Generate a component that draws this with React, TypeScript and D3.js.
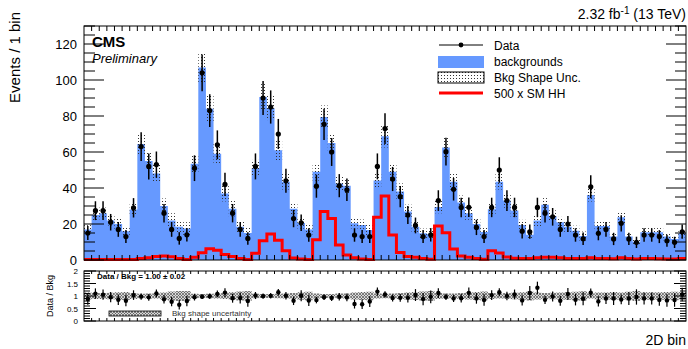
import React, { useRef, useEffect } from 'react';
import * as d3 from 'd3';

// background prediction per 2D bin (events)
const bkg = [
  17, 25, 26, 22, 20, 16, 28, 64.5, 55, 48, 30, 22, 18.5, 17.5,
  53.5, 107, 84, 59, 37, 28.5, 18.5, 15,
  51, 90.5, 84.5, 61, 43.5, 28.5, 20.5, 17,
  49, 79.5, 65, 42.5, 41.3, 20.4, 19.4, 16.7,
  44.2, 68.7, 49, 38, 27, 18.5, 14.8, 14.5,
  29.5, 62.5, 43.5, 32, 26, 20, 15.5,
  28.2, 43.5, 33, 27.5, 19.4, 14,
  22, 30.7, 24.4, 21, 18.5, 16.3, 13.3,
  36.1, 18.9, 18.9, 13, 23.7, 13, 10.2,
  15.4, 15.4, 15.4, 13, 11.7, 14.8,
];

// observed events
const obs = [
  15, 27.4, 27.4, 21, 17, 13, 29, 63, 52, 53, 26, 17, 12, 14,
  51, 104, 83, 64, 42, 26, 17, 12,
  52, 90, 85, 70, 44, 23, 20.7, 13.9,
  41, 75.4, 60, 41.3, 39, 13.9, 13, 13,
  52, 73, 45, 35.2, 25, 19.2, 13, 14,
  33, 60.2, 39.3, 29.2, 29.3, 18.1, 13,
  29.2, 50, 33, 29.2, 16, 15.7,
  29.2, 26, 24, 17, 20, 13.9, 11.8,
  40.7, 14.8, 17, 11.7, 20.4, 11.7, 9.8,
  13.9, 13.9, 13, 10.7, 9.8, 15.7,
];

// 500 x SM HH
const signal = [
  0.3, 0.3, 0.3, 0.3, 0.3, 0.3, 0.3, 0.8, 1.2, 2, 2.2, 1.8, 0.8, 0.3,
  1.5, 4, 6.2, 5.4, 3, 2, 0.9, 0.3,
  3.7, 10.7, 14.4, 11, 5.2, 1.1, 0.6, 0.3,
  11.3, 26.9, 23, 8.3, 2.8, 1.2, 0.6, 0.3,
  23.7, 35.6, 13.9, 4.1, 1.9, 1.5, 0.9, 0.4,
  18.9, 15.2, 6.1, 2.2, 1.5, 0.9, 0.4,
  5.2, 3.9, 1.7, 1, 0.9, 0.8,
  1.2, 1.5, 1.5, 1.3, 0.9, 0.8, 0.9,
  1.3, 0.9, 0.8, 0.7, 1.2, 0.8, 0.6,
  0.8, 0.8, 0.7, 0.6, 0.6, 0.8,
];

// relative background shape uncertainty
const shapeUnc = [
  0.14, 0.12, 0.12, 0.13, 0.15, 0.16, 0.12,
  0.09, 0.1, 0.1, 0.14, 0.18, 0.2, 0.2,
  0.09, 0.08, 0.09, 0.1, 0.12, 0.15, 0.18, 0.2,
  0.09, 0.08, 0.08, 0.09, 0.1, 0.12, 0.15, 0.17,
  0.1, 0.08, 0.08, 0.1, 0.1, 0.14, 0.16, 0.17,
  0.1, 0.09, 0.1, 0.12, 0.14, 0.16, 0.18, 0.2,
  0.12, 0.1, 0.1, 0.12, 0.14, 0.16, 0.18,
  0.12, 0.1, 0.12, 0.13, 0.15, 0.18,
  0.14, 0.12, 0.13, 0.14, 0.15, 0.17, 0.19,
  0.1, 0.14, 0.14, 0.16, 0.14, 0.17, 0.2,
  0.15, 0.15, 0.15, 0.16, 0.17, 0.15,
];

const yTicks = [0, 20, 40, 60, 80, 100, 120];
const ratioTicks = [0, 0.5, 1, 1.5, 2];

const FONT = 'Liberation Sans, Arial, Helvetica, sans-serif';

const App = () => {
  const ref = useRef<SVGSVGElement>(null);

  useEffect(() => {
    const svg = d3.select(ref.current);
    svg.selectAll('*').remove();

    const width = 688;
    const height = 349;
    const left = 84, right = 686;
    const top = 26, mainBottom = 260;
    const rTop = 271, rBottom = 321;
    const n = bkg.length;

    svg.attr('width', width).attr('height', height).style('font-family', FONT);

    const defs = svg.append('defs');
    const dots = defs.append('pattern')
      .attr('id', 'dots').attr('width', 3).attr('height', 3)
      .attr('patternUnits', 'userSpaceOnUse');
    dots.append('rect').attr('width', 1).attr('height', 1).attr('fill', '#333');

    const hatch = defs.append('pattern')
      .attr('id', 'hatch').attr('width', 3).attr('height', 3)
      .attr('patternUnits', 'userSpaceOnUse');
    hatch.append('rect').attr('width', 3).attr('height', 3).attr('fill', '#d8d8d8');
    hatch.append('path').attr('d', 'M0,0L3,3M3,0L0,3').attr('stroke', '#555').attr('stroke-width', 0.7);

    const x = d3.scaleLinear().domain([0, n]).range([left, right]);
    const y = d3.scaleLinear().domain([0, 130]).range([mainBottom, top]);
    const yr = d3.scaleLinear().domain([0, 2]).range([rBottom, rTop]);

    const steps = (vals: number[]) => vals.map((v, i) => [i, v]).concat([[n, vals[n - 1]]]);

    // backgrounds
    svg.append('path')
      .datum(steps(bkg))
      .attr('fill', '#6699ff')
      .attr('d', d3.area<number[]>()
        .x(d => x(d[0])).y0(y(0)).y1(d => y(d[1]))
        .curve(d3.curveStepAfter));

    // shape uncertainty
    svg.append('g').selectAll('rect')
      .data(bkg)
      .enter().append('rect')
      .attr('x', (d, i) => x(i))
      .attr('width', x(1) - x(0))
      .attr('y', (d, i) => y(d * (1 + shapeUnc[i])))
      .attr('height', (d, i) => y(d * (1 - shapeUnc[i])) - y(d * (1 + shapeUnc[i])))
      .attr('fill', 'url(#dots)');

    // signal
    svg.append('path')
      .datum(steps(signal))
      .attr('fill', 'none')
      .attr('stroke', '#ff0000')
      .attr('stroke-width', 3)
      .attr('d', d3.line<number[]>()
        .x(d => x(d[0])).y(d => y(d[1]))
        .curve(d3.curveStepAfter));

    // data
    const pts = svg.append('g');
    obs.forEach((d, i) => {
      const cx = x(i + 0.5);
      const e = Math.sqrt(d);
      pts.append('line').attr('x1', cx).attr('x2', cx)
        .attr('y1', y(d - e)).attr('y2', y(d + e))
        .attr('stroke', '#000').attr('stroke-width', 1.5);
      pts.append('circle').attr('cx', cx).attr('cy', y(d)).attr('r', 2.6).attr('fill', '#000');
    });

    // main frame + ticks
    const ax = svg.append('g').attr('stroke', '#000').attr('fill', 'none');
    ax.append('rect').attr('x', left).attr('y', top).attr('width', right - left).attr('height', mainBottom - top).attr('stroke-width', 1);
    d3.range(0, 131, 5).forEach(v => {
      const len = v % 20 === 0 ? 20 : 11;
      ax.append('line').attr('x1', left).attr('x2', left + len).attr('y1', y(v)).attr('y2', y(v));
      ax.append('line').attr('x1', right).attr('x2', right - len).attr('y1', y(v)).attr('y2', y(v));
    });
    d3.range(1, n).forEach(i => {
      ax.append('line').attr('x1', x(i)).attr('x2', x(i)).attr('y1', mainBottom).attr('y2', mainBottom - 5);
      ax.append('line').attr('x1', x(i)).attr('x2', x(i)).attr('y1', top).attr('y2', top + 5);
    });

    svg.append('g').selectAll('text')
      .data(yTicks).enter().append('text')
      .attr('x', left - 7).attr('y', d => y(d) + 4.5)
      .attr('text-anchor', 'end').attr('font-size', 13)
      .text(d => d);

    // ratio panel
    svg.append('g').selectAll('rect')
      .data(bkg).enter().append('rect')
      .attr('x', (d, i) => x(i))
      .attr('width', x(1) - x(0))
      .attr('y', (d, i) => yr(1 + shapeUnc[i]))
      .attr('height', (d, i) => yr(1 - shapeUnc[i]) - yr(1 + shapeUnc[i]))
      .attr('fill', 'url(#hatch)');

    const rp = svg.append('g');
    obs.forEach((d, i) => {
      const cx = x(i + 0.5);
      const r = d / bkg[i];
      const e = Math.sqrt(d) / bkg[i];
      rp.append('line').attr('x1', cx).attr('x2', cx)
        .attr('y1', yr(Math.max(0, r - e))).attr('y2', yr(Math.min(2, r + e)))
        .attr('stroke', '#000').attr('stroke-width', 1.2);
      rp.append('circle').attr('cx', cx).attr('cy', yr(r)).attr('r', 2.2).attr('fill', '#000');
    });

    const rax = svg.append('g').attr('stroke', '#000').attr('fill', 'none');
    rax.append('rect').attr('x', left).attr('y', rTop).attr('width', right - left).attr('height', rBottom - rTop);
    d3.range(0, 21).forEach(k => {
      const v = k / 10;
      const len = k % 5 === 0 ? 12 : 6;
      rax.append('line').attr('x1', left).attr('x2', left + len).attr('y1', yr(v)).attr('y2', yr(v));
      rax.append('line').attr('x1', right).attr('x2', right - len).attr('y1', yr(v)).attr('y2', yr(v));
    });
    d3.range(1, n).forEach(i => {
      rax.append('line').attr('x1', x(i)).attr('x2', x(i)).attr('y1', rBottom).attr('y2', rBottom - 3);
      rax.append('line').attr('x1', x(i)).attr('x2', x(i)).attr('y1', rTop).attr('y2', rTop + 3);
    });

    svg.append('g').selectAll('text')
      .data(ratioTicks).enter().append('text')
      .attr('x', left - 6).attr('y', d => yr(d) + 3)
      .attr('text-anchor', 'end').attr('font-size', 8)
      .text(d => d);

    svg.append('text')
      .attr('transform', `translate(53,${(rTop + rBottom) / 2}) rotate(-90)`)
      .attr('text-anchor', 'middle').attr('font-size', 9)
      .text('Data / Bkg');

    svg.append('text')
      .attr('x', 97).attr('y', 279).attr('font-size', 8).attr('font-weight', 'bold')
      .text('Data / Bkg = 1.00 \u00b1 0.02');

    svg.append('rect')
      .attr('x', 109).attr('y', 311).attr('width', 52).attr('height', 5)
      .attr('fill', 'url(#hatch)').attr('stroke', '#000').attr('stroke-width', 0.8);
    svg.append('text')
      .attr('x', 172).attr('y', 316).attr('font-size', 8).attr('fill', '#333')
      .text('Bkg shape uncertainty');

    // titles
    svg.append('text')
      .attr('transform', `translate(20,${top - 14}) rotate(-90)`)
      .attr('text-anchor', 'end').attr('font-size', 15)
      .text('Events / 1 bin');

    svg.append('text')
      .attr('x', right).attr('y', 345).attr('text-anchor', 'end').attr('font-size', 14)
      .text('2D bin');

    const lumi = svg.append('text')
      .attr('x', right).attr('y', 19).attr('text-anchor', 'end').attr('font-size', 14);
    lumi.append('tspan').text('2.32 fb');
    lumi.append('tspan').attr('dy', -5).attr('font-size', 10).text('-1');
    lumi.append('tspan').attr('dy', 5).text(' (13 TeV)');

    svg.append('text')
      .attr('x', 92).attr('y', 47).attr('font-size', 15).attr('font-weight', 'bold')
      .text('CMS');
    svg.append('text')
      .attr('x', 92).attr('y', 63).attr('font-size', 13).attr('font-style', 'italic')
      .text('Preliminary');

    // legend
    const lg = svg.append('g');
    lg.append('line').attr('x1', 439).attr('x2', 483).attr('y1', 45).attr('y2', 45).attr('stroke', '#000');
    lg.append('circle').attr('cx', 461).attr('cy', 45).attr('r', 2.4).attr('fill', '#000');
    lg.append('rect').attr('x', 438).attr('y', 56).attr('width', 46).attr('height', 12).attr('fill', '#6699ff');
    lg.append('rect').attr('x', 438).attr('y', 72).attr('width', 46).attr('height', 11)
      .attr('fill', 'url(#dots)').attr('stroke', '#000');
    lg.append('line').attr('x1', 439).attr('x2', 483).attr('y1', 93).attr('y2', 93)
      .attr('stroke', '#ff0000').attr('stroke-width', 3);
    const labels = ['Data', 'backgrounds', 'Bkg Shape Unc.', '500 x SM HH'];
    lg.selectAll('text').data(labels).enter().append('text')
      .attr('x', 494).attr('y', (d, i) => 49.5 + i * 16.2)
      .attr('font-size', 12).text(d => d);
  }, []);

  return <svg ref={ref} style={{ position: 'absolute', left: 0, top: 0 }}></svg>;
};

export default App;
